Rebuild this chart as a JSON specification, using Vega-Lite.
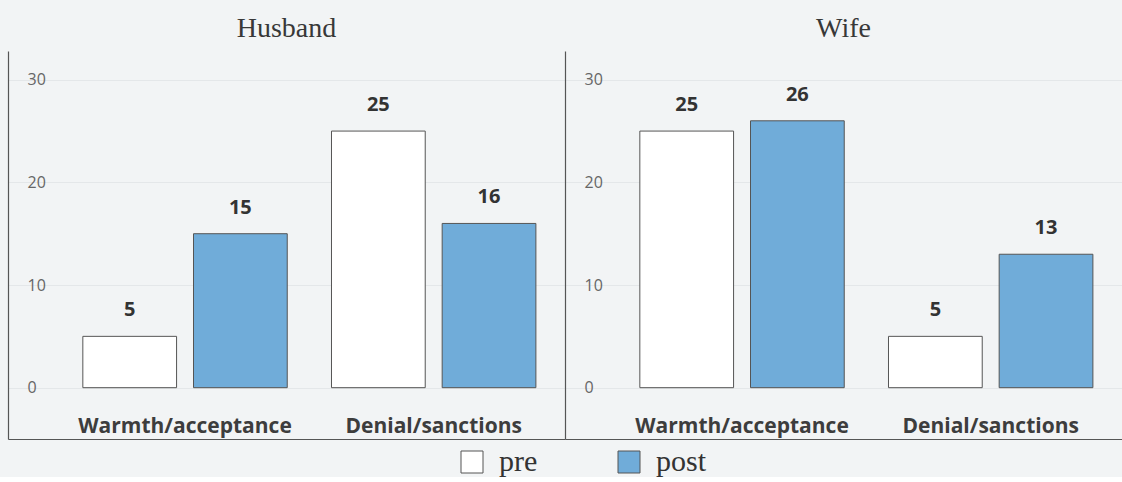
{
  "$schema": "https://vega.github.io/schema/vega-lite/v6.json",
  "padding": {"left": 8, "top": 15, "right": 0, "bottom": 0},
  "background": "#f2f4f5",
  "data": {
    "values": [
      {"panel": "Husband", "behavior": "Warmth/acceptance", "time": "pre", "value": 5},
      {"panel": "Husband", "behavior": "Warmth/acceptance", "time": "post", "value": 15},
      {"panel": "Husband", "behavior": "Denial/sanctions", "time": "pre", "value": 25},
      {"panel": "Husband", "behavior": "Denial/sanctions", "time": "post", "value": 16},
      {"panel": "Wife", "behavior": "Warmth/acceptance", "time": "pre", "value": 25},
      {"panel": "Wife", "behavior": "Warmth/acceptance", "time": "post", "value": 26},
      {"panel": "Wife", "behavior": "Denial/sanctions", "time": "pre", "value": 5},
      {"panel": "Wife", "behavior": "Denial/sanctions", "time": "post", "value": 13}
    ]
  },
  "facet": {
    "column": {
      "field": "panel",
      "type": "nominal",
      "sort": ["Husband", "Wife"],
      "header": {
        "title": null,
        "labelFont": "Liberation Serif",
        "labelFontSize": 28,
        "labelColor": "#383838",
        "labelPadding": 8
      }
    }
  },
  "spacing": 0,
  "resolve": {"axis": {"y": "independent"}},
  "spec": {
    "width": 557,
    "height": 388,
    "encoding": {
      "x": {
        "field": "behavior",
        "type": "nominal",
        "sort": ["Warmth/acceptance", "Denial/sanctions"],
        "scale": {"paddingInner": 0.178, "paddingOuter": 0.209, "align": 0.72},
        "axis": {
          "title": null,
          "orient": "bottom",
          "labelAngle": 0,
          "labelLimit": 0,
          "ticks": false,
          "tickSize": 0,
          "labelPadding": -7,
          "labelBaseline": "alphabetic",
          "labelFont": "Open Sans",
          "labelFontWeight": "bold",
          "labelFontSize": 21,
          "labelColor": "#3d3d3d",
          "domainColor": "#555555",
          "domainWidth": 1.2
        }
      },
      "xOffset": {
        "field": "time",
        "type": "nominal",
        "sort": ["pre", "post"],
        "scale": {"paddingInner": 0.153, "paddingOuter": 0}
      },
      "y": {
        "field": "value",
        "type": "quantitative",
        "scale": {"domain": [-5, 32.8], "nice": false, "zero": false},
        "axis": {
          "title": null,
          "values": [0, 10, 20, 30],
          "ticks": false,
          "tickSize": 0,
          "labelAlign": "left",
          "labelPadding": -19,
          "labelFont": "Open Sans",
          "labelFontSize": 16,
          "labelColor": "#666666",
          "domainColor": "#555555",
          "domainWidth": 1.2,
          "grid": true,
          "gridColor": "#e4e7e9"
        }
      }
    },
    "layer": [
      {
        "mark": {"type": "bar", "stroke": "#555555", "strokeWidth": 1},
        "encoding": {
          "y2": {"datum": 0},
          "fill": {
            "field": "time",
            "type": "nominal",
            "scale": {"domain": ["pre", "post"], "range": ["#ffffff", "#70acd9"]},
            "legend": {
              "title": null,
              "orient": "none",
              "direction": "horizontal",
              "legendX": 449,
              "legendY": 396,
              "symbolType": "square",
              "symbolSize": 484,
              "symbolStrokeColor": "#555555",
              "symbolStrokeWidth": 1,
              "labelFont": "Liberation Serif",
              "labelFontSize": 30,
              "labelColor": "#333333",
              "labelOffset": 12,
              "columnPadding": 76
            }
          }
        }
      },
      {
        "mark": {
          "type": "text",
          "baseline": "alphabetic",
          "dy": -20,
          "font": "Open Sans",
          "fontWeight": "bold",
          "fontSize": 20,
          "color": "#333333"
        },
        "encoding": {"text": {"field": "value", "type": "quantitative"}}
      }
    ]
  },
  "config": {"view": {"stroke": null}}
}
